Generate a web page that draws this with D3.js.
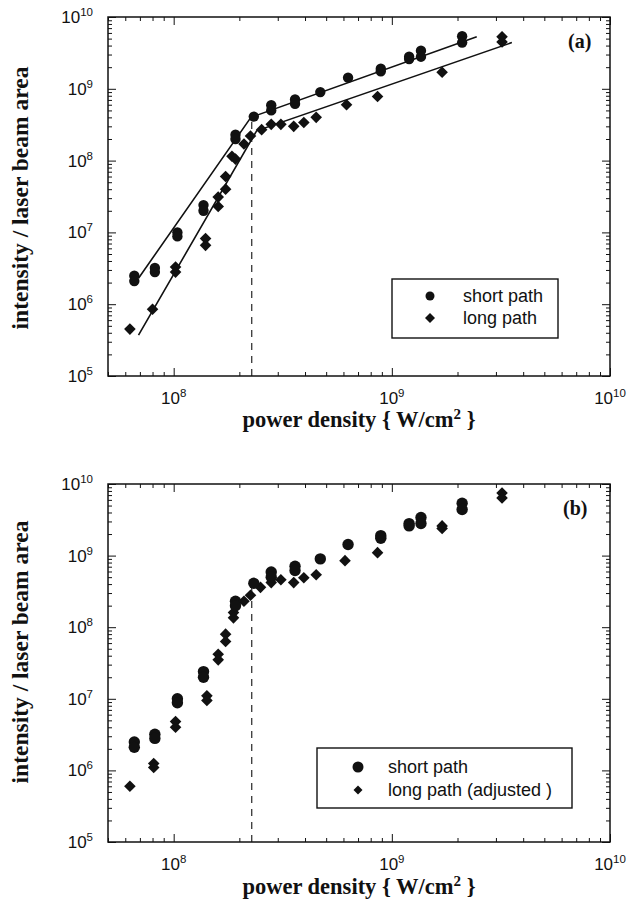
<!DOCTYPE html>
<html><head><meta charset="utf-8">
<script src="https://cdn.jsdelivr.net/npm/d3@7"></script>
<style>body{margin:0;background:#fff}</style>
</head><body>
<svg id="c" width="631" height="903"></svg>
<script>
// ---------- data ----------
const xDomain = [5e7, 1e10];
const yDomain = [1e5, 1e10];
const xLabelExps = [8, 9, 10];
const yLabelExps = [5, 6, 7, 8, 9, 10];

// short path (circles) — same in both panels
const shortX = [6.6e7,6.6e7,8.2e7,8.2e7,1.04e8,1.04e8,1.37e8,1.37e8,1.92e8,1.92e8,2.33e8,2.8e8,2.8e8,3.6e8,3.6e8,4.7e8,6.3e8,8.9e8,8.9e8,1.2e9,1.2e9,1.36e9,1.36e9,2.1e9,2.1e9];
const shortY = [2.5e6,2.1e6,3.2e6,2.8e6,1.0e7,8.8e6,2.4e7,2.0e7,2.3e8,2.0e8,4.1e8,5.9e8,5.0e8,7.1e8,6.2e8,9.0e8,1.43e9,1.9e9,1.75e9,2.8e9,2.6e9,3.4e9,2.8e9,5.4e9,4.4e9];

// long path (diamonds), panel (a)
const longAX = [6.3e7,8.0e7,1.02e8,1.02e8,1.4e8,1.4e8,1.6e8,1.6e8,1.73e8,1.73e8,1.85e8,1.92e8,2.1e8,2.25e8,2.53e8,2.8e8,3.1e8,3.55e8,3.95e8,4.5e8,6.2e8,8.6e8,1.7e9,3.2e9,3.2e9];
const longAY = [4.5e5,8.5e5,3.3e6,2.8e6,8.2e6,6.6e6,3.1e7,2.3e7,6.0e7,4.0e7,1.15e8,1.05e8,1.7e8,2.2e8,2.7e8,3.2e8,3.2e8,3.0e8,3.4e8,4.0e8,6.0e8,7.8e8,1.7e9,5.3e9,4.5e9];

// long path (adjusted), panel (b)
const longBX = [6.3e7,8.1e7,8.1e7,1.02e8,1.02e8,1.42e8,1.42e8,1.6e8,1.6e8,1.73e8,1.73e8,1.88e8,1.88e8,2.1e8,2.25e8,2.5e8,2.8e8,3.1e8,3.55e8,3.95e8,4.5e8,6.1e8,8.6e8,1.7e9,1.7e9,3.2e9,3.2e9];
const longBY = [6.0e5,1.25e6,1.1e6,4.8e6,4.0e6,1.1e7,9.5e6,4.2e7,3.5e7,8.0e7,6.3e7,1.6e8,1.35e8,2.3e8,2.8e8,3.6e8,4.2e8,4.6e8,4.2e8,4.9e8,5.4e8,8.5e8,1.1e9,2.6e9,2.4e9,7.5e9,6.4e9];

// fitted lines, panel (a)
const shortFitX = [6.9e7, 2.26e8, 2.45e9];
const shortFitY = [2.3e6, 4.0e8, 5.3e9];
const longFitX = [6.9e7, 2.4e8, 3.55e9];
const longFitY = [3.7e5, 2.6e8, 4.4e9];

// threshold marker
const thresholdX = 2.28e8;
const thresholdTopY = 4.0e8;

const legendA = ["short path", "long path"];
const legendB = ["short path", "long path (adjusted )"];

// ---------- drawing ----------
const svg = d3.select("#c");
const INK = "#111";
const SANS = "'Liberation Sans', Arial, Helvetica, sans-serif";
const SERIF = "'Liberation Serif', 'Times New Roman', Times, serif";

function logTicks(domain) {
  const out = [];
  const lo = Math.floor(Math.log10(domain[0])), hi = Math.ceil(Math.log10(domain[1]));
  for (let e = lo; e <= hi; e++) for (let m = 1; m <= 9; m++) {
    const v = m * Math.pow(10, e);
    if (v >= domain[0] * 0.999 && v <= domain[1] * 1.001) out.push(v);
  }
  return out;
}
const isMajor = v => Math.abs(Math.log10(v) - Math.round(Math.log10(v))) < 1e-6;

const diamond = (half) => `M0,${-half}L${half},0L0,${half}L${-half},0Z`;

function panel(cfg) {
  const x = d3.scaleLog().domain(xDomain).range([cfg.left, cfg.right]);
  const y = d3.scaleLog().domain(yDomain).range([cfg.bottom, cfg.top]);
  const g = svg.append("g");
  const xt = logTicks(xDomain), yt = logTicks(yDomain);
  const MAJ = 8, MIN = 4;

  const axes = [
    [d3.axisBottom(x), `translate(0,${cfg.bottom})`, "y2", xt, -1],
    [d3.axisTop(x), `translate(0,${cfg.top})`, "y2", xt, 1],
    [d3.axisLeft(y), `translate(${cfg.left},0)`, "x2", yt, 1],
    [d3.axisRight(y), `translate(${cfg.right},0)`, "x2", yt, -1],
  ];
  axes.forEach(([ax, tr, attr, vals, sgn]) => {
    g.append("g").attr("transform", tr)
      .call(ax.tickValues(vals).tickFormat("").tickSizeOuter(0))
      .call(s => {
        s.select(".domain").remove();
        s.selectAll(".tick line").attr("stroke", INK).attr("stroke-width", 1)
          .attr(attr, d => sgn * (isMajor(d) ? MAJ : MIN));
      });
  });

  g.append("rect")
    .attr("x", cfg.left).attr("y", cfg.top)
    .attr("width", cfg.right - cfg.left).attr("height", cfg.bottom - cfg.top)
    .attr("fill", "none").attr("stroke", INK).attr("stroke-width", 1.5);

  // tick labels
  g.selectAll(".xl").data(xLabelExps).join("text")
    .attr("x", e => x(Math.pow(10, e))).attr("y", cfg.bottom + 28)
    .attr("text-anchor", "middle").attr("font-family", SANS).attr("font-size", 17).attr("fill", INK)
    .each(function (e) {
      const t = d3.select(this);
      t.append("tspan").text("10");
      t.append("tspan").attr("dy", -7).attr("font-size", 11.5).text(e);
    });
  g.selectAll(".yl").data(yLabelExps).join("text")
    .attr("x", cfg.left - 15).attr("y", e => y(Math.pow(10, e)) + 6)
    .attr("text-anchor", "end").attr("font-family", SANS).attr("font-size", 17).attr("fill", INK)
    .each(function (e) {
      const t = d3.select(this);
      t.append("tspan").text("10");
      t.append("tspan").attr("dy", -7).attr("font-size", 11.5).text(e);
    });

  // axis titles
  const xt2 = g.append("text")
    .attr("x", (cfg.left + cfg.right) / 2).attr("y", cfg.xTitleY)
    .attr("text-anchor", "middle").attr("font-family", SERIF).attr("font-weight", "bold")
    .attr("font-size", 22.5).attr("fill", INK);
  xt2.append("tspan").text("power density { W/cm");
  xt2.append("tspan").attr("dy", -8).attr("font-size", 15).text("2");
  xt2.append("tspan").attr("dy", 8).text(" }");

  g.append("text")
    .attr("transform", `translate(28,${cfg.yTitleC}) rotate(-90)`)
    .attr("text-anchor", "middle").attr("font-family", SERIF).attr("font-weight", "bold")
    .attr("font-size", 23.5).attr("fill", INK)
    .text("intensity / laser beam area");

  // panel tag
  g.append("text").attr("x", cfg.tagX).attr("y", cfg.tagY)
    .attr("font-family", SERIF).attr("font-weight", "bold").attr("font-size", 20).attr("fill", INK)
    .text(cfg.tag);

  // threshold dashed line
  g.append("line")
    .attr("x1", x(thresholdX)).attr("x2", x(thresholdX))
    .attr("y1", y(yDomain[0])).attr("y2", y(thresholdTopY))
    .attr("stroke", INK).attr("stroke-width", 1.1).attr("stroke-dasharray", "7,6");

  // fit lines
  const line = d3.line().x(d => x(d[0])).y(d => y(d[1]));
  (cfg.fits || []).forEach(([fx, fy]) => {
    g.append("path").datum(fx.map((v, i) => [v, fy[i]]))
      .attr("d", line).attr("fill", "none").attr("stroke", INK).attr("stroke-width", 1.6);
  });

  // markers
  g.selectAll(".lp").data(cfg.longX.map((v, i) => [v, cfg.longY[i]])).join("path")
    .attr("transform", d => `translate(${x(d[0])},${y(d[1])})`)
    .attr("d", diamond(cfg.dHalf)).attr("fill", INK);
  g.selectAll(".sp").data(shortX.map((v, i) => [v, shortY[i]])).join("circle")
    .attr("cx", d => x(d[0])).attr("cy", d => y(d[1])).attr("r", cfg.r).attr("fill", INK);

  // legend
  const L = cfg.legend;
  g.append("rect").attr("x", L.x0).attr("y", L.y0).attr("width", L.x1 - L.x0).attr("height", L.y1 - L.y0)
    .attr("fill", "#fff").attr("stroke", INK).attr("stroke-width", 1.4);
  g.append("circle").attr("cx", L.mx).attr("cy", L.ry[0]).attr("r", L.cr).attr("fill", INK);
  g.append("path").attr("transform", `translate(${L.mx},${L.ry[1]})`).attr("d", diamond(L.dh)).attr("fill", INK);
  L.labels.forEach((s, i) => {
    g.append("text").attr("x", L.tx).attr("y", L.ry[i] + 6)
      .attr("font-family", SANS).attr("font-size", 18).attr("fill", INK).text(s);
  });
}

panel({
  left: 108, right: 610, top: 17, bottom: 376,
  xTitleY: 427, yTitleC: 198,
  tag: "(a)", tagX: 568, tagY: 48,
  longX: longAX, longY: longAY, r: 5.2, dHalf: 5.8,
  fits: [[shortFitX, shortFitY], [longFitX, longFitY]],
  legend: { x0: 392, y0: 279, x1: 558, y1: 338, mx: 430, tx: 463, ry: [296, 318], cr: 4.5, dh: 5, labels: legendA }
});

panel({
  left: 108, right: 610, top: 484, bottom: 842,
  xTitleY: 894, yTitleC: 652,
  tag: "(b)", tagX: 563, tagY: 515,
  longX: longBX, longY: longBY, r: 5.7, dHalf: 5.8,
  fits: [],
  legend: { x0: 317, y0: 748, x1: 572, y1: 808, mx: 358, tx: 388, ry: [767, 790], cr: 5.5, dh: 4.5, labels: legendB }
});
</script>
</body></html>
